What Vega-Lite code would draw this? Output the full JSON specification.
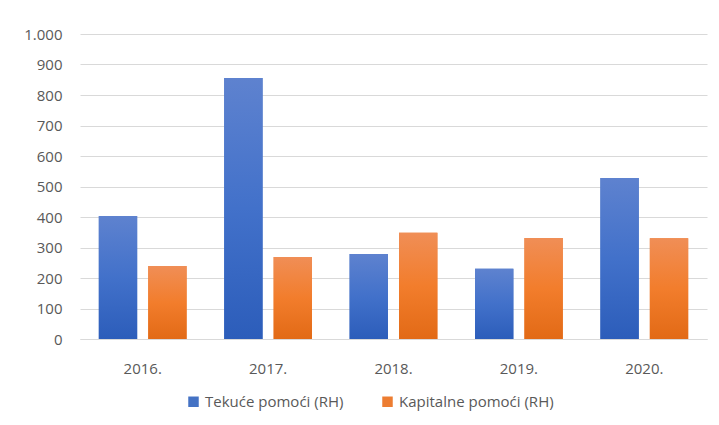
{
  "$schema": "https://vega.github.io/schema/vega-lite/v6.json",
  "width": 627,
  "height": 305,
  "autosize": {"type": "none"},
  "padding": {"left": 80, "top": 34, "right": 12, "bottom": 86},
  "background": "white",
  "config": {
    "view": {"stroke": null},
    "font": "Open Sans",
    "axis": {"labelFont": "Open Sans", "labelFontSize": 15, "labelColor": "#595959"},
    "legend": {"labelFont": "Open Sans", "labelFontSize": 15, "labelColor": "#595959"}
  },
  "data": {
    "values": [
      {"year": "2016.", "series": "Tekuće pomoći (RH)", "value": 403},
      {"year": "2016.", "series": "Kapitalne pomoći (RH)", "value": 239},
      {"year": "2017.", "series": "Tekuće pomoći (RH)", "value": 856},
      {"year": "2017.", "series": "Kapitalne pomoći (RH)", "value": 269},
      {"year": "2018.", "series": "Tekuće pomoći (RH)", "value": 279},
      {"year": "2018.", "series": "Kapitalne pomoći (RH)", "value": 348},
      {"year": "2019.", "series": "Tekuće pomoći (RH)", "value": 230},
      {"year": "2019.", "series": "Kapitalne pomoći (RH)", "value": 331},
      {"year": "2020.", "series": "Tekuće pomoći (RH)", "value": 528},
      {"year": "2020.", "series": "Kapitalne pomoći (RH)", "value": 330}
    ]
  },
  "encoding": {
    "x": {
      "field": "year", "type": "nominal",
      "scale": {"paddingInner": 0.3, "paddingOuter": 0.15},
      "axis": {"title": null, "labelAngle": 0, "ticks": false, "domainColor": "#d9d9d9", "labelPadding": 22, "grid": false}
    },
    "xOffset": {
      "field": "series", "type": "nominal",
      "sort": ["Tekuće pomoći (RH)", "Kapitalne pomoći (RH)"],
      "scale": {"paddingInner": 0.224, "paddingOuter": 0}
    },
    "y": {
      "field": "value", "type": "quantitative",
      "scale": {"domain": [0, 1000], "nice": false},
      "axis": {
        "title": null, "domain": false, "ticks": false,
        "values": [0, 100, 200, 300, 400, 500, 600, 700, 800, 900, 1000],
        "labelExpr": "replace(format(datum.value, ','), ',', '.')",
        "labelPadding": 18, "gridColor": "#d9d9d9", "gridWidth": 1
      }
    }
  },
  "layer": [
    {
      "mark": {"type": "bar"},
      "encoding": {
        "color": {
          "field": "series", "type": "nominal",
          "sort": ["Tekuće pomoći (RH)", "Kapitalne pomoći (RH)"],
          "scale": {"domain": ["Tekuće pomoći (RH)", "Kapitalne pomoći (RH)"], "range": ["#4472C4", "#ED7D31"]},
          "legend": {
            "title": null, "orient": "none", "direction": "horizontal",
            "legendX": 106, "legendY": 360,
            "symbolType": "square", "symbolSize": 110, "symbolStrokeWidth": 0,
            "columnPadding": 36, "labelOffset": 4
          }
        }
      }
    },
    {
      "transform": [{"filter": "datum.series === 'Tekuće pomoći (RH)'"}],
      "mark": {
        "type": "bar",
        "fill": {
          "gradient": "linear", "x1": 0, "y1": 0, "x2": 0, "y2": 1,
          "stops": [
            {"offset": 0, "color": "#5E82CF"},
            {"offset": 0.5, "color": "#4271CA"},
            {"offset": 1, "color": "#2C5DBA"}
          ]
        }
      },
      "encoding": {}
    },
    {
      "transform": [{"filter": "datum.series === 'Kapitalne pomoći (RH)'"}],
      "mark": {
        "type": "bar",
        "fill": {
          "gradient": "linear", "x1": 0, "y1": 0, "x2": 0, "y2": 1,
          "stops": [
            {"offset": 0, "color": "#F08E56"},
            {"offset": 0.5, "color": "#F27D2C"},
            {"offset": 1, "color": "#E26A16"}
          ]
        }
      },
      "encoding": {}
    }
  ]
}
